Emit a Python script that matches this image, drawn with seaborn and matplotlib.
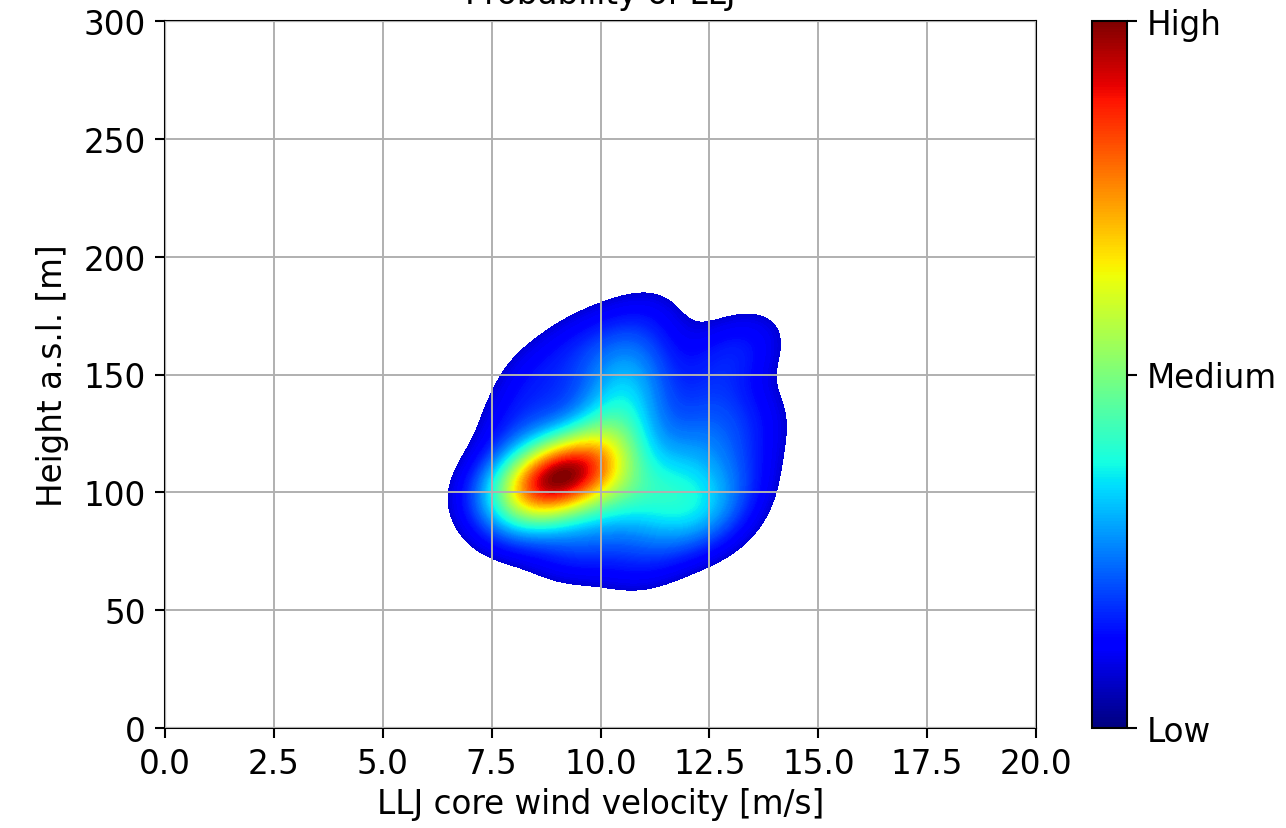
import numpy as np
import pandas as pd
import matplotlib
matplotlib.use("Agg")
import matplotlib.pyplot as plt
from matplotlib.colors import ListedColormap, Normalize
import matplotlib.cm as cm
import seaborn as sns

# Observed LLJ cases (core wind velocity [m/s], height [m], weight = number of cases)
velocity = [8.6, 9.3, 10.0, 10.6, 11.8, 10.3, 10.5, 10.6, 12.0, 12.5, 12.8, 13.4,
            13.5, 13.2, 8.2, 8.6, 9.6, 11.0, 8.2, 9.5, 11.0, 12.4, 7.6, 12.9]
height = [104, 108, 112, 99, 95, 124, 140, 156, 115, 135, 155, 165,
          130, 112, 130, 150, 165, 175, 90, 78, 72, 85, 103, 97]
cases = [3, 3, 1.2, 1.4, 1.3, 1.3, 1.2, 0.9, 0.9, 0.6, 0.5, 0.4,
         0.4, 0.4, 0.6, 0.5, 0.4, 0.4, 0.9, 0.8, 0.6, 0.6, 0.6, 0.5]

x_ticks = [0.0, 2.5, 5.0, 7.5, 10.0, 12.5, 15.0, 17.5, 20.0]
y_ticks = [0, 50, 100, 150, 200, 250, 300]
cbar_labels = ["Low", "Medium", "High"]

df = pd.DataFrame({"v": velocity, "h": height, "w": cases})

FS = 23.5
W, H = 1286, 829
fig = plt.figure(figsize=(W / 100, H / 100), dpi=100)
ax = fig.add_axes([165 / W, (H - 729) / H, 871 / W, 707 / H])
cax = fig.add_axes([1092 / W, (H - 729) / H, 35 / W, 707 / H])

jet = matplotlib.colormaps["jet"]
fill_cmap = ListedColormap(jet(np.linspace(0.08, 1.0, 256)))

sns.kdeplot(data=df, x="v", y="h", weights="w", fill=True, levels=120,
            thresh=0.055, cmap=fill_cmap, bw_adjust=0.78, gridsize=300,
            ax=ax, antialiased=False)

ax.set_xlim(0, 20)
ax.set_ylim(0, 300)
ax.set_xticks(x_ticks)
ax.set_xticklabels([f"{t:.1f}" for t in x_ticks])
ax.set_yticks(y_ticks)
ax.set_axisbelow(False)
ax.grid(True, color="#b0b0b0", linewidth=1.4)
ax.tick_params(labelsize=FS, length=7, width=1.5, pad=7)
for s in ax.spines.values():
    s.set_linewidth(1.5)
ax.set_xlabel("LLJ core wind velocity [m/s]", fontsize=FS, labelpad=5)
ax.set_ylabel("Height a.s.l. [m]", fontsize=FS, labelpad=10)
ax.set_title("Probability of LLJ", fontsize=FS, pad=13)

sm = cm.ScalarMappable(norm=Normalize(0, 1), cmap=jet)
cb = fig.colorbar(sm, cax=cax, ticks=[0, 0.5, 1])
cb.ax.set_yticklabels(cbar_labels)
cb.ax.tick_params(labelsize=FS, length=7, width=1.5, pad=7)
cb.outline.set_linewidth(1.5)

fig.savefig("out.png", dpi=100)
